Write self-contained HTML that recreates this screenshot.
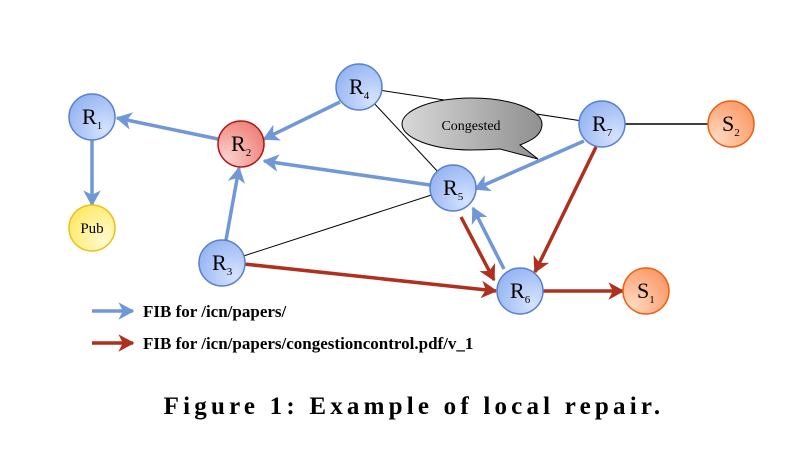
<!DOCTYPE html>
<html><head><meta charset="utf-8"><style>body{margin:0;background:#fff}svg{display:block}</style></head><body>
<svg width="797" height="451" viewBox="0 0 797 451" xmlns="http://www.w3.org/2000/svg" font-family="Liberation Serif, serif">
<defs>
<marker id="ab" viewBox="0 0 12 12" refX="10" refY="6" markerWidth="5" markerHeight="5" orient="auto" markerUnits="strokeWidth"><path d="M0,0 L11,6 L0,12 L3,6 Z" fill="#7097d8"/></marker>
<marker id="ar" viewBox="0 0 12 12" refX="10" refY="6" markerWidth="5" markerHeight="5" orient="auto" markerUnits="strokeWidth"><path d="M0,0 L11,6 L0,12 L3,6 Z" fill="#b03020"/></marker>
<radialGradient id="gb" cx="0.8" cy="0.8" r="1"><stop offset="0" stop-color="#d6e3ff"/><stop offset="1" stop-color="#8fb0f0"/></radialGradient>
<radialGradient id="gr" cx="0.2" cy="0.8" r="1"><stop offset="0" stop-color="#fbd0cc"/><stop offset="1" stop-color="#ec7a72"/></radialGradient>
<radialGradient id="go" cx="0.2" cy="0.8" r="1"><stop offset="0" stop-color="#ffd8c0"/><stop offset="1" stop-color="#fb9460"/></radialGradient>
<radialGradient id="gy" cx="0.8" cy="0.8" r="1"><stop offset="0" stop-color="#fffad0"/><stop offset="1" stop-color="#ffe860"/></radialGradient>
<linearGradient id="gg" x1="0" y1="0" x2="1" y2="0"><stop offset="0" stop-color="#d8d8d8"/><stop offset="1" stop-color="#909090"/></linearGradient>
</defs>
<g stroke="#000" fill="none">
<line x1="359" y1="87" x2="602" y2="124" stroke-width="1"/>
<line x1="359" y1="87" x2="453" y2="188" stroke-width="1"/>
<line x1="222" y1="263" x2="453" y2="188" stroke-width="1"/>
<line x1="602" y1="124" x2="731" y2="124" stroke-width="1.6"/>
</g>
<path d="M402,124 A70,26 0 0 1 542,124 C542,136 530,141 520,145 L538,159 L500,149 C485,150 470,150 470,150 A70,26 0 0 1 402,124 Z" fill="url(#gg)" stroke="#000" stroke-width="1"/>
<text x="471" y="130" font-size="14" text-anchor="middle">Congested</text>
<g stroke="#7097d8" stroke-width="3.5" fill="none">
<line x1="218" y1="139" x2="117" y2="118" marker-end="url(#ab)"/>
<line x1="92" y1="140" x2="92" y2="205" marker-end="url(#ab)"/>
<line x1="340" y1="102" x2="264" y2="139" marker-end="url(#ab)"/>
<line x1="430" y1="185" x2="264" y2="161" marker-end="url(#ab)"/>
<line x1="226" y1="240" x2="239" y2="168" marker-end="url(#ab)"/>
<line x1="584" y1="141" x2="475" y2="189" marker-end="url(#ab)"/>
<line x1="504" y1="269" x2="473" y2="208" marker-end="url(#ab)"/>
</g>
<g stroke="#b03020" stroke-width="3.5" fill="none">
<line x1="461" y1="217" x2="494" y2="280" marker-end="url(#ar)"/>
<line x1="596" y1="147" x2="535" y2="272" marker-end="url(#ar)"/>
<line x1="244" y1="264" x2="496" y2="291" marker-end="url(#ar)"/>
<line x1="543" y1="291" x2="623" y2="291" marker-end="url(#ar)"/>
<line x1="92" y1="343" x2="133" y2="343" marker-end="url(#ar)"/>
</g>
<line x1="92" y1="311" x2="133" y2="311" stroke="#7097d8" stroke-width="3.5" marker-end="url(#ab)"/>
<g stroke-width="1.5">
<circle cx="92" cy="117" r="23" fill="url(#gb)" stroke="#5a80d0"/>
<circle cx="241" cy="144" r="23" fill="url(#gr)" stroke="#b01818"/>
<circle cx="222" cy="263" r="23" fill="url(#gb)" stroke="#5a80d0"/>
<circle cx="359" cy="87" r="23" fill="url(#gb)" stroke="#5a80d0"/>
<circle cx="453" cy="188" r="23" fill="url(#gb)" stroke="#5a80d0"/>
<circle cx="520" cy="291" r="23" fill="url(#gb)" stroke="#5a80d0"/>
<circle cx="602" cy="124" r="23" fill="url(#gb)" stroke="#5a80d0"/>
<circle cx="731" cy="124" r="23" fill="url(#go)" stroke="#f06010"/>
<circle cx="646" cy="291" r="23" fill="url(#go)" stroke="#f06010"/>
<circle cx="92" cy="228" r="23" fill="url(#gy)" stroke="#f0c010"/>
</g>
<g font-size="22" fill="#000">
<text x="82" y="124">R<tspan font-size="11" dy="5">1</tspan></text>
<text x="231" y="151">R<tspan font-size="11" dy="5">2</tspan></text>
<text x="212" y="270">R<tspan font-size="11" dy="5">3</tspan></text>
<text x="349" y="94">R<tspan font-size="11" dy="5">4</tspan></text>
<text x="443" y="195">R<tspan font-size="11" dy="5">5</tspan></text>
<text x="510" y="298">R<tspan font-size="11" dy="5">6</tspan></text>
<text x="592" y="131">R<tspan font-size="11" dy="5">7</tspan></text>
<text x="722" y="131">S<tspan font-size="11" dy="5">2</tspan></text>
<text x="637" y="298">S<tspan font-size="11" dy="5">1</tspan></text>
<text x="92" y="233" font-size="15" text-anchor="middle">Pub</text>
</g>
<g font-size="17" font-weight="bold">
<text x="143" y="317">FIB for /icn/papers/</text>
<text x="143" y="349">FIB for /icn/papers/congestioncontrol.pdf/v_1</text>
</g>
<text x="414" y="414" font-size="25" font-weight="bold" text-anchor="middle" letter-spacing="4.2">Figure 1: Example of local repair.</text>
</svg>
</body></html>
